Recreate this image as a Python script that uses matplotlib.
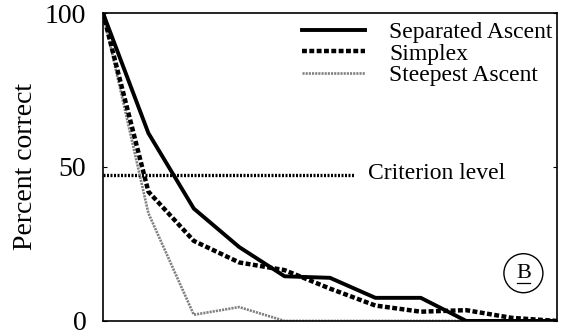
import numpy as np
import matplotlib.pyplot as plt

plt.rcParams['font.family'] = ['Liberation Serif', 'DejaVu Serif']

# trial index along x (unlabelled axis)
steps = np.arange(11)
separated = [100, 61, 36.5, 24, 14.5, 14, 7.5, 7.5, 0, 0, 0]
simplex = [100, 42, 26, 19, 16.5, 10.5, 5, 3, 3.5, 1, 0]
steepest = [100, 35, 2, 4.5, 0, 0, 0, 0, 0, 0, 0]
criterion = 47.5
criterion_end = 5.55

fig = plt.figure(figsize=(5.64, 3.35), dpi=100)
ax = fig.add_axes([0.1826, 0.042, 0.805, 0.919])

ax.plot(steps, steepest, color='0.5', lw=1.9, ls=(0, (0.8, 0.4)), label='Steepest Ascent', zorder=2)
ax.plot(steps, simplex, color='black', lw=3.2, ls=(0, (1.1, 0.55)), label='Simplex', zorder=3)
ax.plot(steps, separated, color='black', lw=2.8, label='Separated Ascent', zorder=4)
ax.plot([0, criterion_end], [criterion, criterion], color='black', lw=2.4, ls=(0, (0.6, 0.45)), zorder=1)
ax.text(5.84, criterion + 0.5, 'Criterion level', fontsize=17, va='center', ha='left')

h, l = ax.get_legend_handles_labels()
order = [2, 1, 0]
ax.legend([h[i] for i in order], [l[i] for i in order], loc='upper right', frameon=False,
          bbox_to_anchor=(0.99, 0.972),
          fontsize=17, handlelength=2.7, handletextpad=1.0, labelspacing=0.0,
          borderaxespad=0.0, borderpad=0.0)

# panel marker
ax.text(0.926, 0.155, 'B', transform=ax.transAxes, fontsize=16, ha='center', va='center',
        zorder=5, bbox=dict(boxstyle='circle,pad=0.45', fc='white', ec='black', lw=1))
ax.plot([0.912, 0.940], [0.122, 0.122], transform=ax.transAxes, color='black', lw=0.9, zorder=6)

ax.set_xlim(0, 10)
ax.set_ylim(0, 100)
ax.set_yticks([0, 50, 100])
ax.set_xticks([])
ax.tick_params(axis='y', direction='in', length=3, labelsize=20, right=True, pad=12)
ax.set_ylabel('Percent correct', fontsize=20, labelpad=5)
for s in ax.spines.values():
    s.set_linewidth(1.2)

fig.savefig('out.png', dpi=100)
